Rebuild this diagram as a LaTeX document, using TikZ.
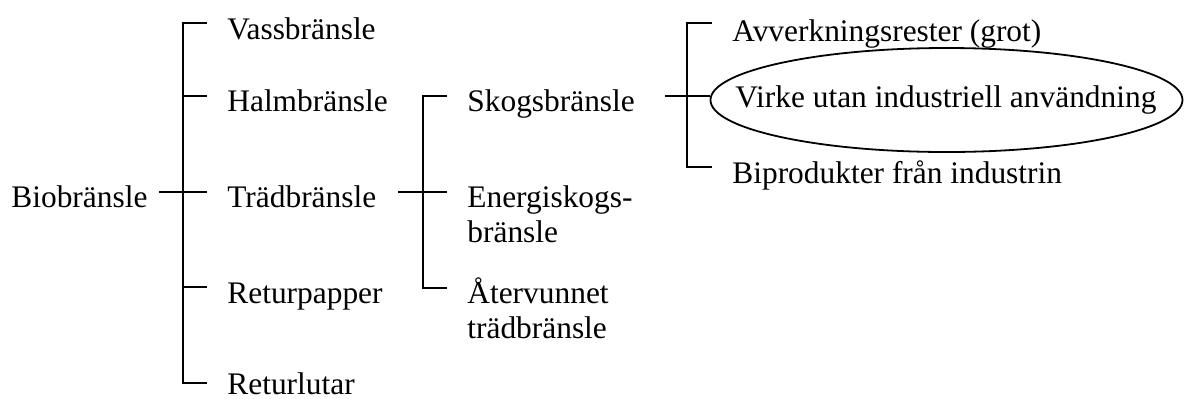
\documentclass[tikz,border=0pt]{standalone}
\usepackage{fontspec}
\setmainfont{Liberation Serif}
\usetikzlibrary{shapes.geometric}
\begin{document}
\begin{tikzpicture}[x=0.5pt,y=-0.5pt,
  txtfont/.style={font=\fontsize{15.7pt}{17.5pt}\selectfont},
  lbl/.style={txtfont, anchor=base west, inner sep=0pt},
  conn/.style={draw=black, line width=1pt},
  ring/.style={ellipse, draw=black, line width=0.9pt, minimum width=236pt, minimum height=52pt, inner sep=0pt}]
\useasboundingbox (0,0) rectangle (1184,398);

% texts
\node[lbl] (bio) at (11,207) {Biobränsle};
\node[lbl] (vass) at (227,39) {Vassbränsle};
\node[lbl] (halm) at (227,111) {Halmbränsle};
\node[lbl] (trad) at (227,207) {Trädbränsle};
\node[lbl] (retp) at (227,303) {Returpapper};
\node[lbl] (retl) at (227,394) {Returlutar};
\node[lbl] (skog) at (467,111) {Skogsbränsle};
\node[lbl] (energi) at (467,207) {\begin{tabular}[t]{@{}l@{}}Energiskogs-\\bränsle\end{tabular}};
\node[lbl] (ater) at (467,303) {\begin{tabular}[t]{@{}l@{}}Återvunnet\\trädbränsle\end{tabular}};
\node[lbl] (avv) at (732,41) {Avverkningsrester (grot)};
\node[ring] (ring) at (946.5,100) {};
\node[lbl] (virke) at (735,107) {Virke utan industriell användning};
\node[lbl] (bip) at (732,183) {Biprodukter från industrin};

% bracket 1
\coordinate (s1) at (159,192);
\coordinate (j1) at (183,192);
\coordinate (c1a) at (183,23);
\coordinate (c1e) at (183,383);
\coordinate (t1a) at (207,23);
\coordinate (t1b) at (207,96);
\coordinate (t1c) at (207,192);
\coordinate (t1d) at (207,287);
\coordinate (t1e) at (207,383);
\draw[conn] (s1) -- (j1);
\draw[conn] (t1a) -- (c1a) -- (c1e) -- (t1e);
\draw[conn] (j1 |- t1b) -- (t1b);
\draw[conn] (j1) -- (t1c);
\draw[conn] (j1 |- t1d) -- (t1d);

% bracket 2
\coordinate (s2) at (398,192);
\coordinate (j2) at (423,192);
\coordinate (c2a) at (423,96);
\coordinate (c2e) at (423,288);
\coordinate (t2a) at (447,96);
\coordinate (t2b) at (447,192);
\coordinate (t2e) at (447,288);
\draw[conn] (s2) -- (j2);
\draw[conn] (t2a) -- (c2a) -- (c2e) -- (t2e);
\draw[conn] (j2) -- (t2b);

% bracket 3
\coordinate (s3) at (665,96);
\coordinate (j3) at (687,96);
\coordinate (c3a) at (687,23);
\coordinate (c3e) at (687,167);
\coordinate (t3a) at (712,23);
\coordinate (t3e) at (712,167);
\draw[conn] (s3) -- (j3);
\draw[conn] (t3a) -- (c3a) -- (c3e) -- (t3e);
\draw[conn] (j3) -- (ring.west |- j3);
\end{tikzpicture}
\end{document}
